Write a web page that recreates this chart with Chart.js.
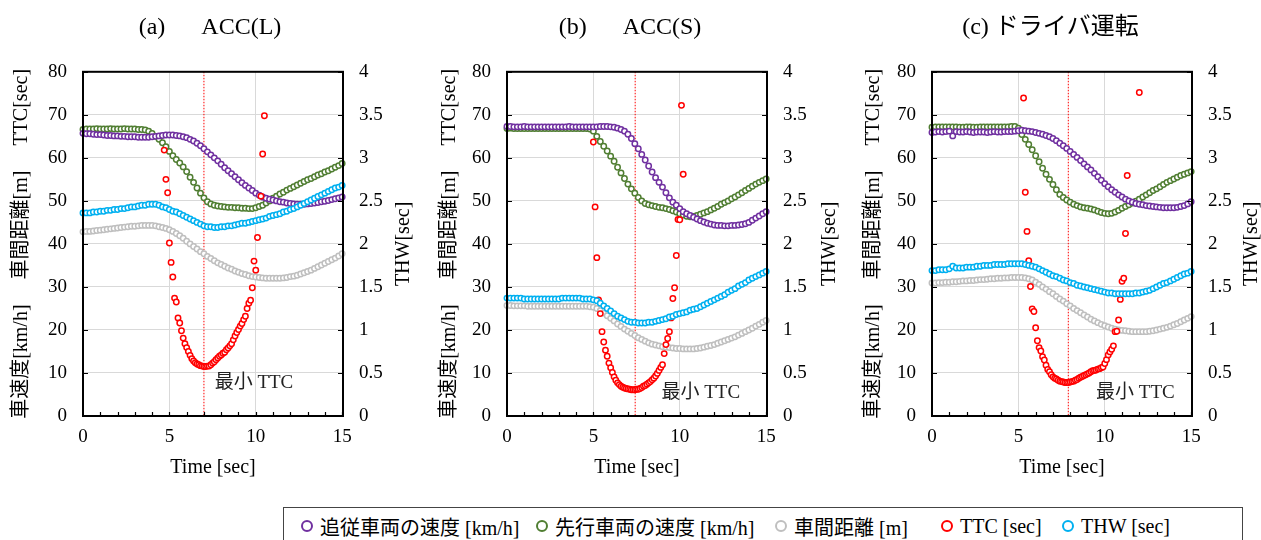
<!DOCTYPE html>
<html>
<head>
<meta charset="utf-8">
<script src="https://cdn.jsdelivr.net/npm/chart.js@4"></script>
<style>
  body { margin: 0; background: #fff; width: 1261px; height: 540px; overflow: hidden; position: relative;
         font-family: "Liberation Serif", "Noto Sans CJK JP", serif; }
  .panel { position: absolute; top: 0; }
  #legend { position: absolute; left: 283px; top: 507px; width: 958px; height: 40px; border: 1px solid #444; }
  #legend .item { position: absolute; top: 0; height: 36px; display: flex; align-items: center; font-size: 20px; color: #000; white-space: nowrap; }
  #legend .mk { display: inline-block; width: 8px; height: 8px; border: 2px solid; border-radius: 50%; margin-right: 7px; }
</style>
</head>
<body>
<canvas id="chartA" class="panel" width="420" height="490" style="left:0px"></canvas>
<canvas id="chartB" class="panel" width="420" height="490" style="left:420px"></canvas>
<canvas id="chartC" class="panel" width="421" height="490" style="left:840px"></canvas>
<div id="legend"></div>
<script>
// time axis of the sampled series [sec]
const time = [0,0.2,0.4,0.6,0.8,1,1.2,1.4,1.6,1.8,
  2,2.2,2.4,2.6,2.8,3,3.2,3.4,3.6,3.8,
  4,4.2,4.4,4.6,4.8,5,5.2,5.4,5.6,5.8,
  6,6.2,6.4,6.6,6.8,7,7.2,7.4,7.6,7.8,
  8,8.2,8.4,8.6,8.8,9,9.2,9.4,9.6,9.8,
  10,10.2,10.4,10.6,10.8,11,11.2,11.4,11.6,11.8,
  12,12.2,12.4,12.6,12.8,13,13.2,13.4,13.6,13.8,
  14,14.2,14.4,14.6,14.8,15];

// (a) ACC(L)
const followA = [65.7,65.6,65.6,65.5,65.4,65.4,65.3,65.2,65.2,65.1,
  65.1,65.0,65.0,64.9,64.9,64.9,64.8,64.8,64.8,64.8,
  64.9,65.0,65.1,65.2,65.3,65.3,65.3,65.2,65.1,64.9,
  64.7,64.3,63.9,63.4,62.8,62.1,61.4,60.7,60.0,59.3,
  58.5,57.7,57.0,56.3,55.6,54.9,54.2,53.6,53.0,52.4,
  51.8,51.3,50.9,50.6,50.4,50.2,50.0,49.8,49.7,49.5,
  49.4,49.3,49.2,49.2,49.2,49.3,49.4,49.5,49.6,49.8,
  49.9,50.1,50.3,50.5,50.7,50.9];
const leadA = [66.6,66.7,66.7,66.7,66.8,66.7,66.7,66.7,66.8,66.7,
  66.7,66.7,66.8,66.7,66.7,66.7,66.6,66.6,66.5,66.2,
  65.7,65.0,64.3,63.5,62.6,61.5,60.5,59.6,58.8,57.9,
  56.8,55.5,54.3,53.0,51.8,50.7,49.8,49.3,49.0,48.8,
  48.7,48.6,48.5,48.5,48.4,48.4,48.3,48.3,48.2,48.2,
  48.4,48.7,49.0,49.5,50.0,50.6,51.1,51.6,52.0,52.5,
  52.9,53.3,53.7,54.1,54.5,54.9,55.2,55.6,56.0,56.3,
  56.7,57.0,57.4,57.8,58.2,58.7];
const gapA = [42.8,42.9,42.9,43.0,43.1,43.2,43.3,43.4,43.5,43.6,
  43.7,43.8,43.9,44.0,44.1,44.1,44.2,44.3,44.3,44.3,
  44.3,44.2,44.0,43.8,43.6,43.3,42.9,42.4,41.9,41.3,
  40.6,40.0,39.4,38.8,38.2,37.7,37.1,36.6,36.1,35.6,
  35.2,34.8,34.4,34.1,33.7,33.4,33.1,32.9,32.6,32.4,
  32.3,32.2,32.1,32.0,32.0,32.0,32.0,32.0,32.1,32.2,
  32.4,32.5,32.7,33.0,33.3,33.6,33.9,34.3,34.7,35.1,
  35.5,35.9,36.3,36.7,37.2,37.7];
const thwA = [2.36,2.36,2.36,2.37,2.37,2.38,2.38,2.39,2.39,2.40,
  2.40,2.41,2.41,2.42,2.43,2.43,2.44,2.45,2.45,2.46,
  2.46,2.46,2.45,2.43,2.42,2.40,2.38,2.37,2.35,2.33,
  2.31,2.29,2.27,2.25,2.23,2.21,2.20,2.20,2.19,2.19,
  2.20,2.20,2.21,2.21,2.22,2.23,2.24,2.24,2.25,2.26,
  2.27,2.28,2.29,2.30,2.32,2.33,2.34,2.35,2.37,2.38,
  2.40,2.41,2.43,2.45,2.47,2.49,2.51,2.53,2.55,2.57,
  2.59,2.61,2.63,2.65,2.66,2.68];
const ttcTimeA = [4.7,4.8,4.9,5.0,5.1,5.2,5.3,5.4,5.5,5.6,5.7,5.8,5.9,
  6.0,6.1,6.2,6.3,6.4,6.5,6.6,6.7,6.8,6.9,7.0,7.1,7.2,7.3,7.4,7.5,7.6,7.7,7.8,7.9,
  8.0,8.1,8.2,8.3,8.4,8.5,8.6,8.7,8.8,8.9,9.0,9.1,9.2,9.3,9.4,9.5,9.6,9.7,9.8,9.9,
  10.0,10.1,10.3,10.4,10.5];
const ttcA = [61.8,55.0,51.9,40.2,35.7,32.3,27.4,26.5,22.8,21.6,19.8,18.1,16.8,
  15.9,15.0,14.1,13.3,12.8,12.4,12.1,11.9,11.7,11.6,11.5,11.5,11.6,11.6,11.9,12.3,12.6,13.1,13.5,13.9,
  14.2,14.6,14.8,15.4,15.8,16.3,16.8,17.7,18.6,19.4,20.1,20.9,21.5,22.4,23.2,25.0,26.2,26.9,29.8,36.0,
  33.9,41.5,51.1,60.9,69.8];

// (b) ACC(S)
const followB = [67.3,67.3,67.2,67.2,67.2,67.3,67.2,67.2,67.2,67.2,
  67.2,67.2,67.2,67.2,67.2,67.2,67.2,67.2,67.3,67.2,
  67.2,67.2,67.2,67.2,67.2,67.2,67.2,67.3,67.3,67.3,
  67.2,67.1,66.9,66.6,66.2,65.5,64.5,63.3,62.1,60.8,
  59.5,58.1,56.7,55.4,54.3,53.2,51.9,50.7,49.7,49.0,
  48.2,47.5,47.0,46.6,46.2,45.8,45.4,45.1,44.8,44.6,
  44.4,44.3,44.3,44.2,44.2,44.3,44.3,44.4,44.5,44.7,
  45.0,45.5,46.0,46.5,47.0,47.5];
const leadB = [66.8,66.9,66.8,66.8,66.8,66.8,66.8,66.8,66.8,66.8,
  66.8,66.8,66.8,66.8,66.8,66.8,66.8,66.8,66.8,66.8,
  66.8,66.8,66.8,66.8,66.7,66.2,65.0,63.8,62.7,61.6,
  60.4,59.2,57.8,56.5,55.2,53.9,52.8,51.8,50.8,50.0,
  49.4,49.1,48.9,48.7,48.5,48.4,48.2,48.0,47.7,47.4,
  47.0,46.7,46.4,46.3,46.4,46.6,46.9,47.2,47.5,47.9,
  48.3,48.7,49.2,49.6,50.0,50.5,50.9,51.4,51.9,52.4,
  52.9,53.4,53.9,54.3,54.7,55.1];
const gapB = [25.7,25.7,25.6,25.6,25.6,25.6,25.5,25.5,25.5,25.5,
  25.5,25.5,25.5,25.5,25.5,25.5,25.5,25.5,25.5,25.5,
  25.5,25.5,25.5,25.5,25.4,25.3,25.0,24.5,23.9,23.3,
  22.7,22.1,21.4,20.8,20.2,19.7,19.2,18.7,18.2,17.8,
  17.4,17.0,16.7,16.5,16.3,16.1,16.0,15.9,15.8,15.7,
  15.7,15.6,15.6,15.6,15.6,15.7,15.8,16.0,16.2,16.4,
  16.6,16.9,17.2,17.5,17.8,18.1,18.4,18.8,19.2,19.6,
  20.0,20.4,20.9,21.3,21.8,22.2];
const thwB = [1.37,1.37,1.37,1.37,1.37,1.36,1.36,1.36,1.36,1.36,
  1.36,1.36,1.36,1.36,1.36,1.36,1.37,1.37,1.37,1.37,
  1.37,1.37,1.36,1.36,1.36,1.35,1.34,1.31,1.28,1.25,
  1.22,1.19,1.16,1.14,1.12,1.10,1.09,1.09,1.08,1.08,
  1.08,1.09,1.09,1.10,1.11,1.12,1.13,1.15,1.16,1.18,
  1.19,1.20,1.21,1.23,1.24,1.25,1.27,1.29,1.31,1.33,
  1.35,1.37,1.39,1.41,1.44,1.46,1.48,1.51,1.53,1.55,
  1.58,1.60,1.62,1.64,1.66,1.68];
const ttcTimeB = [5.0,5.1,5.2,5.3,5.4,5.5,5.6,5.7,5.8,5.9,
  6.0,6.1,6.2,6.3,6.4,6.5,6.6,6.7,6.8,6.9,
  7.0,7.1,7.2,7.3,7.4,7.5,7.6,7.7,7.8,7.9,
  8.0,8.1,8.2,8.3,8.4,8.5,8.6,8.7,8.8,8.9,
  9.0,9.1,9.2,9.3,9.4,9.5,9.6,9.7,9.8,9.9,
  10.0,10.1,10.2];
const ttcB = [63.7,48.6,36.8,27.0,23.8,19.6,17.2,15.3,13.9,12.3,
  11.2,10.1,9.1,8.3,7.7,7.3,6.9,6.7,6.5,6.4,
  6.3,6.2,6.1,6.1,6.1,6.2,6.2,6.4,6.6,6.9,
  7.1,7.4,7.7,8.0,8.4,8.8,9.3,9.9,10.6,11.3,
  11.9,14.5,16.6,18.0,19.6,22.8,27.3,29.8,37.3,45.7,
  45.6,72.2,56.2];

// (c) ドライバ運転
const followC = [65.9,66.0,66.1,66.0,66.1,66.2,65.1,66.1,66.0,66.0,
  66.1,66.0,65.9,66.0,66.0,66.0,65.9,66.0,66.1,66.0,
  66.0,66.1,66.1,66.1,66.2,66.3,66.4,66.3,66.2,66.1,
  65.9,65.7,65.5,65.2,64.9,64.5,64.0,63.4,62.8,62.2,
  61.5,60.8,60.1,59.4,58.6,57.9,57.2,56.4,55.6,54.8,
  54.0,53.3,52.6,52.0,51.4,50.9,50.4,50.0,49.7,49.4,
  49.2,49.1,48.9,48.8,48.7,48.6,48.5,48.4,48.4,48.4,
  48.4,48.5,48.7,48.9,49.3,49.8];
const leadC = [67.1,67.2,67.2,67.2,67.2,67.2,67.2,67.2,67.1,67.1,
  67.2,67.2,67.1,67.1,67.2,67.2,67.2,67.2,67.2,67.2,
  67.2,67.2,67.2,67.3,67.3,66.9,65.4,64.3,63.1,61.9,
  60.5,59.1,57.6,56.2,55.0,53.8,52.6,51.5,50.8,50.2,
  49.7,49.2,48.9,48.6,48.4,48.3,48.1,47.9,47.6,47.3,
  47.1,47.0,47.1,47.4,47.8,48.3,48.7,49.1,49.5,49.9,
  50.4,50.9,51.4,51.9,52.4,52.8,53.3,53.8,54.3,54.7,
  55.1,55.5,55.9,56.2,56.5,56.8];
const gapC = [30.9,30.9,31.0,31.0,31.1,31.1,31.2,31.2,31.3,31.4,
  31.4,31.5,31.5,31.6,31.7,31.7,31.8,31.9,31.9,32.0,
  32.0,32.1,32.1,32.2,32.2,32.2,32.2,32.1,31.9,31.6,
  31.1,30.6,30.0,29.5,28.9,28.4,27.8,27.2,26.7,26.1,
  25.6,25.0,24.5,24.0,23.5,23.0,22.5,22.1,21.7,21.3,
  21.0,20.7,20.4,20.2,20.0,19.9,19.8,19.7,19.6,19.6,
  19.6,19.6,19.6,19.7,19.8,20.0,20.2,20.4,20.6,20.9,
  21.2,21.5,21.9,22.3,22.7,23.1];
const thwC = [1.69,1.69,1.70,1.70,1.70,1.71,1.74,1.72,1.72,1.72,
  1.73,1.73,1.73,1.74,1.74,1.75,1.75,1.75,1.76,1.76,
  1.76,1.76,1.77,1.77,1.77,1.77,1.77,1.76,1.75,1.74,
  1.73,1.71,1.69,1.67,1.65,1.63,1.62,1.60,1.58,1.57,
  1.55,1.54,1.52,1.51,1.50,1.49,1.48,1.47,1.46,1.45,
  1.44,1.43,1.43,1.42,1.42,1.42,1.42,1.42,1.42,1.43,
  1.43,1.44,1.45,1.46,1.48,1.50,1.52,1.54,1.55,1.57,
  1.59,1.61,1.63,1.65,1.66,1.68];
const ttcTimeC = [5.3,5.4,5.5,5.6,5.7,5.8,5.9,
  6.0,6.1,6.2,6.3,6.4,6.5,6.6,6.7,6.8,6.9,
  7.0,7.1,7.2,7.3,7.4,7.5,7.6,7.7,7.8,7.9,
  8.0,8.1,8.2,8.3,8.4,8.5,8.6,8.7,8.8,8.9,
  9.0,9.1,9.2,9.3,9.4,9.5,9.6,9.7,9.8,9.9,
  10.0,10.1,10.2,10.3,10.4,10.5,10.6,10.7,10.8,10.9,
  11.0,11.1,11.2,11.3,12.0];
const ttcC = [73.9,52.0,42.9,36.1,30.1,24.9,24.3,
  20.5,17.5,15.9,15.1,13.8,13.0,11.8,10.8,10.3,9.6,
  9.1,8.8,8.6,8.3,8.1,8.0,7.9,7.8,7.8,7.8,
  7.9,8.0,8.1,8.3,8.5,8.8,9.0,9.2,9.4,9.6,
  9.8,10.0,10.3,10.5,10.6,10.7,10.9,11.0,11.2,11.4,
  12.2,13.1,14.2,14.9,15.5,16.3,19.6,19.7,22.3,27.1,
  31.3,32.0,42.4,55.9,75.2];

// time of minimum TTC per panel
const minTtcTime = [7.0, 7.42, 7.89];

const xTicks = [0, 5, 10, 15];
const xMinorTicks = [1,2,3,4,5,6,7,8,9,10,11,12,13,14,15];
const leftTicks = [0,10,20,30,40,50,60,70,80];
const rightTicks = [0,0.5,1,1.5,2,2.5,3,3.5,4];

const seriesNames = ['追従車両の速度 [km/h]', '先行車両の速度 [km/h]', '車間距離 [m]', 'TTC [sec]', 'THW [sec]'];
const seriesColors = ['#7030A0', '#507E32', '#BFBFBF', '#FF0000', '#00B0F0'];
// drawing order: higher is drawn first (underneath)
const seriesOrder = [4, 5, 3, 2, 1];

const SERIF = "'Liberation Serif', 'Noto Sans CJK JP', serif";
Chart.defaults.font.family = SERIF;
Chart.defaults.color = '#000';

// frame, inward ticks, min-TTC marker line and label, right axis title
const panelDeco = {
  id: 'panelDeco',
  beforeDatasetsDraw(chart, args, o) {
    const { ctx, chartArea: a, scales: { x } } = chart;
    const px = x.getPixelForValue(o.minT);
    ctx.save();
    ctx.strokeStyle = '#ff0000';
    ctx.lineWidth = 1;
    ctx.setLineDash([1.5, 1.5]);
    ctx.beginPath();
    ctx.moveTo(px, a.top);
    ctx.lineTo(px, a.bottom);
    ctx.stroke();
    ctx.restore();
  },
  afterDatasetsDraw(chart, args, o) {
    const { ctx, chartArea: a, scales: { x, y, y2 } } = chart;
    ctx.save();
    ctx.strokeStyle = '#000';
    ctx.lineWidth = 1.2;
    ctx.beginPath();
    leftTicks.forEach(v => {
      const py = Math.round(y.getPixelForValue(v)) + 0.5;
      ctx.moveTo(a.left, py); ctx.lineTo(a.left + 5, py);
    });
    rightTicks.forEach(v => {
      const py = Math.round(y2.getPixelForValue(v)) + 0.5;
      ctx.moveTo(a.right - 5, py); ctx.lineTo(a.right, py);
    });
    xMinorTicks.forEach(v => {
      const px = Math.round(x.getPixelForValue(v)) + 0.5;
      ctx.moveTo(px, a.bottom); ctx.lineTo(px, a.bottom - 4);
    });
    ctx.stroke();

    ctx.lineWidth = 2;
    ctx.strokeRect(a.left, a.top, a.right - a.left, a.bottom - a.top);

    ctx.fillStyle = '#222';
    ctx.font = '19px ' + SERIF;
    ctx.textAlign = 'left';
    ctx.textBaseline = 'middle';
    ctx.fillText('最小 TTC', x.getPixelForValue(o.labelT), y.getPixelForValue(o.labelV));

    ctx.fillStyle = '#000';
    ctx.font = '20px ' + SERIF;
    ctx.translate(a.right + o.rightTitleOffset, (a.top + a.bottom) / 2);
    ctx.rotate(-Math.PI / 2);
    ctx.textAlign = 'center';
    ctx.fillText('THW[sec]', 0, 0);
    ctx.restore();
  }
};

function pts(xs, ys) {
  return xs.map((t, i) => ({ x: t, y: ys[i] }));
}

function series(i, data, axis) {
  return {
    label: seriesNames[i],
    data: data,
    yAxisID: axis,
    showLine: false,
    clip: false,
    order: seriesOrder[i],
    pointStyle: 'circle',
    pointRadius: 2.7,
    pointBorderWidth: 1.5,
    pointBorderColor: seriesColors[i],
    pointBackgroundColor: '#ffffff'
  };
}

const panels = [
  { id: 'chartA', title: '(a)\u3000  ACC(L)', follow: followA, lead: leadA, gap: gapA, thw: thwA,
    ttcTime: ttcTimeA, ttc: ttcA, minT: minTtcTime[0], labelT: 7.62, labelV: 7.6,
    leftW: 83, rightW: 77, titlePad: 10, rightTitleOffset: 61 },
  { id: 'chartB', title: '(b)\u3000  ACC(S)', follow: followB, lead: leadB, gap: gapB, thw: thwB,
    ttcTime: ttcTimeB, ttc: ttcB, minT: minTtcTime[1], labelT: 8.94, labelV: 5.3,
    leftW: 87, rightW: 73, titlePad: 18, rightTitleOffset: 63 },
  { id: 'chartC', title: '(c) ドライバ運転', follow: followC, lead: leadC, gap: gapC, thw: thwC,
    ttcTime: ttcTimeC, ttc: ttcC, minT: minTtcTime[2], labelT: 9.5, labelV: 5.3,
    leftW: 92, rightW: 69, titlePad: 22, rightTitleOffset: 60 }
];

const tickFont = { family: SERIF, size: 19 };

panels.forEach(p => {
  new Chart(document.getElementById(p.id), {
    type: 'scatter',
    data: {
      datasets: [
        series(0, pts(time, p.follow), 'y'),
        series(1, pts(time, p.lead), 'y'),
        series(2, pts(time, p.gap), 'y'),
        series(3, pts(p.ttcTime, p.ttc), 'y'),
        series(4, pts(time, p.thw), 'y2')
      ]
    },
    options: {
      responsive: false,
      animation: false,
      events: [],
      layout: { padding: { top: 0, bottom: 4, left: 0, right: 0 } },
      plugins: {
        legend: { display: false },
        tooltip: { enabled: false },
        title: {
          display: true, text: p.title, color: '#000',
          font: { family: SERIF, size: 24, weight: 'normal' },
          padding: { top: 13, bottom: 30 }
        },
        panelDeco: { minT: p.minT, labelT: p.labelT, labelV: p.labelV, rightTitleOffset: p.rightTitleOffset }
      },
      scales: {
        x: {
          type: 'linear', min: 0, max: 15.05,
          afterBuildTicks: s => { s.ticks = xTicks.map(v => ({ value: v })); },
          afterFit: s => { s.height = 70; },
          ticks: { padding: 10, color: '#000', font: tickFont, maxRotation: 0, callback: v => String(v) },
          grid: {
            drawTicks: false, lineWidth: 1,
            color: c => (c.tick && (c.tick.value === 5 || c.tick.value === 10)) ? '#d9d9d9' : 'rgba(0,0,0,0)'
          },
          border: { display: false },
          title: { display: true, text: 'Time [sec]', color: '#000', font: { family: SERIF, size: 20 }, padding: { top: 0, bottom: 6 } }
        },
        y: {
          type: 'linear', position: 'left', min: 0, max: 80,
          afterBuildTicks: s => { s.ticks = leftTicks.map(v => ({ value: v })); },
          afterFit: s => { s.width = p.leftW; },
          ticks: { padding: 16, color: '#000', font: tickFont, callback: v => String(v) },
          grid: { drawTicks: false, color: '#d9d9d9', lineWidth: 1 },
          border: { display: false },
          title: {
            display: true, text: '車速度[km/h]\u3000 車間距離[m]\u3000 TTC[sec]', color: '#000',
            font: { family: SERIF, size: 20 }, padding: { top: p.titlePad, bottom: 0 }
          }
        },
        y2: {
          type: 'linear', position: 'right', min: 0, max: 4,
          afterBuildTicks: s => { s.ticks = rightTicks.map(v => ({ value: v })); },
          afterFit: s => { s.width = p.rightW; },
          ticks: { padding: 16, color: '#000', font: tickFont, callback: v => String(v) },
          grid: { display: false, drawTicks: false },
          border: { display: false }
        }
      }
    },
    plugins: [panelDeco]
  });
});

// legend
const legendX = [301, 536, 775, 941, 1062];
const legend = document.getElementById('legend');
seriesNames.forEach((name, i) => {
  const item = document.createElement('div');
  item.className = 'item';
  item.style.left = (legendX[i] - 284) + 'px';
  const mk = document.createElement('span');
  mk.className = 'mk';
  mk.style.borderColor = seriesColors[i];
  item.appendChild(mk);
  item.appendChild(document.createTextNode(name));
  legend.appendChild(item);
});
</script>
</body>
</html>
